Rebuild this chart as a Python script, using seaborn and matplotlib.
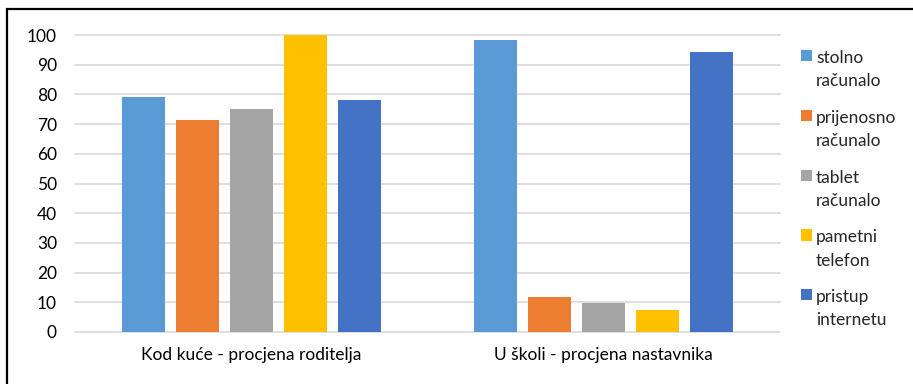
import matplotlib
matplotlib.use("Agg")
import matplotlib.pyplot as plt
from matplotlib.patches import Rectangle
import seaborn as sns
import pandas as pd

# Categories and series
groups = ["Kod kuće - procjena roditelja", "U školi - procjena nastavnika"]
devices = ["stolno\nračunalo", "prijenosno\nračunalo", "tablet\nračunalo",
           "pametni\ntelefon", "pristup\ninternetu"]
home_values = [79.0, 71.3, 75.0, 100.0, 78.1]
school_values = [98.2, 11.7, 9.8, 7.4, 94.4]
y_ticks = [0, 10, 20, 30, 40, 50, 60, 70, 80, 90, 100]
colors = ["#5B9BD5", "#ED7D31", "#A5A5A5", "#FFC000", "#4472C4"]

rows = []
for g, vals in zip(groups, [home_values, school_values]):
    for d, v in zip(devices, vals):
        rows.append({"skupina": g, "uređaj": d, "postotak": v})
df = pd.DataFrame(rows)

sns.set_theme(style="white")
plt.rcParams["font.family"] = ["Lato", "DejaVu Sans"]
FS = 12.5

fig = plt.figure(figsize=(9.13, 3.84), dpi=100)
ax = fig.add_axes([75 / 913, 1 - 332 / 384, 705 / 913, 297 / 384])

sns.barplot(data=df, x="skupina", y="postotak", hue="uređaj",
            order=groups, hue_order=devices, palette=colors,
            saturation=1, width=0.766, gap=0.2, ax=ax, linewidth=0,
            errorbar=None)

ax.set_ylim(0, 100)
ax.set_yticks(y_ticks)
ax.set_xlabel("")
ax.set_ylabel("")
for s in ax.spines.values():
    s.set_visible(False)
ax.set_axisbelow(True)
ax.yaxis.grid(True, color="#D9D9D9", linewidth=1.2)
for gl in ax.yaxis.get_gridlines():
    gl.set_clip_on(False)
ax.tick_params(axis="both", length=0, labelsize=FS, colors="#000000")
ax.tick_params(axis="y", pad=13)
ax.tick_params(axis="x", pad=11)

handles, labels = ax.get_legend_handles_labels()
leg = ax.legend(handles, labels, loc="upper left",
                bbox_to_anchor=(801 / 913, 1 - 50 / 384),
                bbox_transform=fig.transFigure, frameon=False,
                fontsize=FS, handlelength=0.62, handleheight=0.62,
                handletextpad=0.25, labelspacing=1.19, borderpad=0,
                borderaxespad=0)
for t in leg.get_texts():
    t.set_linespacing(1.55)
# put each colour square next to the first line of its label
for col in leg._legend_handle_box.get_children():
    for hp in col.get_children():
        hp.align = "top"

# outer frame of the chart
fig.add_artist(Rectangle((7 / 913, -0.1), 1.2, 1 - 9 / 384 + 0.1,
                         transform=fig.transFigure, fill=False,
                         edgecolor="black", linewidth=1.6))

fig.savefig("out.png", dpi=100)
